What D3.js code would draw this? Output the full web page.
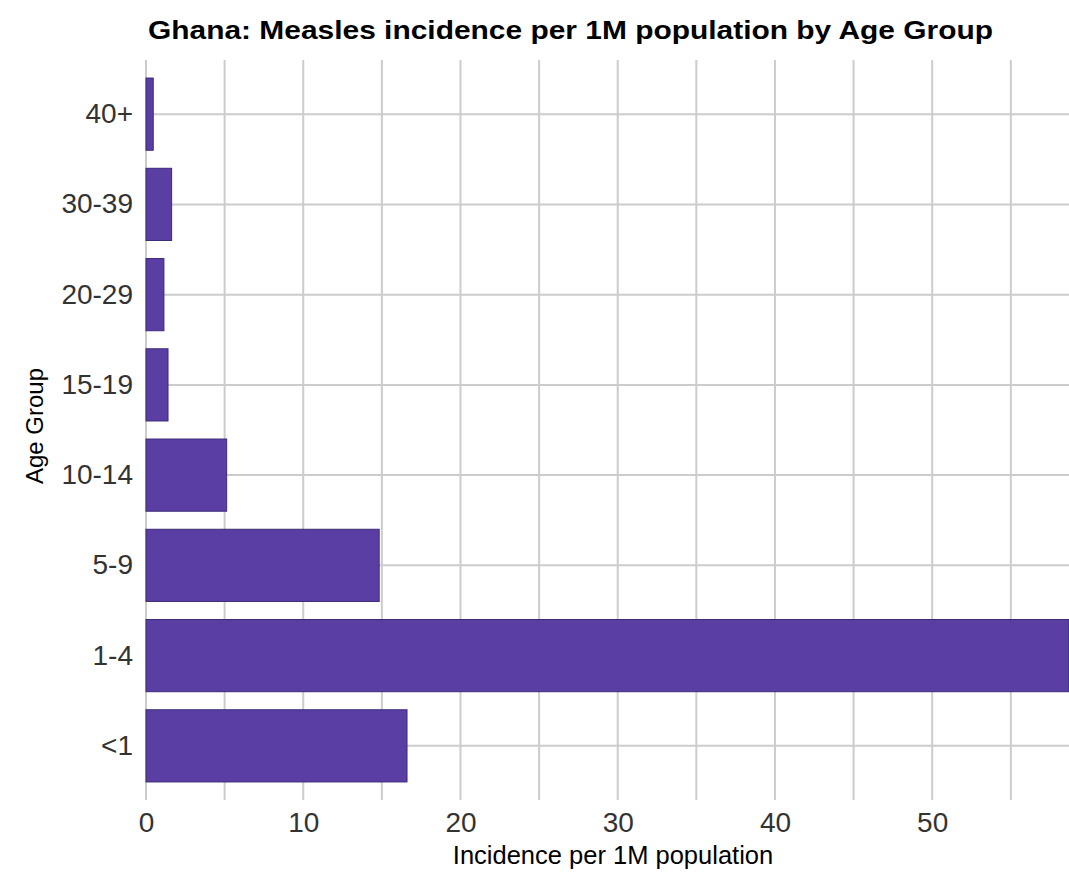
<!DOCTYPE html>
<html><head><meta charset="utf-8">
<script src="https://cdn.jsdelivr.net/npm/d3@7"></script>
<style>body{margin:0;background:#fff}svg{display:block}</style>
</head><body><svg id="c" width="1069" height="872"></svg>
<script>
const categories = ["40+","30-39","20-29","15-19","10-14","5-9","1-4","<1"];
const values = [0.46, 1.63, 1.14, 1.40, 5.13, 14.83, 58.7, 16.6];
const xTicks = [0,10,20,30,40,50];
const xGrid = [0,5,10,15,20,25,30,35,40,45,50,55];
const title = "Ghana: Measles incidence per 1M population by Age Group";
const xTitle = "Incidence per 1M population";
const yTitle = "Age Group";

const svg = d3.select("#c");
const pL = 146, pR = 1069, pT = 60, pB = 800;
const x = d3.scaleLinear().domain([0, 58.7]).range([pL, pR]);
const y = d3.scaleBand().domain(categories).range([pT, pB]).paddingInner(0.2).paddingOuter(0.2);

const grid = svg.append("g").attr("stroke","#cccccc").attr("stroke-width",2);
grid.selectAll(".v").data(xGrid).enter().append("line")
  .attr("x1",d=>x(d)).attr("x2",d=>x(d)).attr("y1",pT).attr("y2",pB);
grid.selectAll(".h").data(categories).enter().append("line")
  .attr("x1",pL).attr("x2",pR)
  .attr("y1",d=>y(d)+y.bandwidth()/2).attr("y2",d=>y(d)+y.bandwidth()/2);

svg.append("g").selectAll("rect").data(categories).enter().append("rect")
  .attr("x",x(0)).attr("y",d=>y(d))
  .attr("width",(d,i)=>x(values[i])-x(0)).attr("height",y.bandwidth())
  .attr("fill","#5a3ea3").attr("stroke","#3b2b78").attr("stroke-width",1);

const font = "Liberation Sans, Arial, sans-serif";
const xa = svg.append("g").attr("transform",`translate(0,${pB})`)
  .call(d3.axisBottom(x).tickValues(xTicks).tickSize(0).tickPadding(12).tickFormat(d3.format("d")));
xa.select(".domain").remove();
xa.selectAll("text").attr("font-family",font).attr("font-size",28).attr("fill","#333");

const ya = svg.append("g").attr("transform",`translate(${pL},0)`)
  .call(d3.axisLeft(y).tickSize(0).tickPadding(13));
ya.select(".domain").remove();
ya.selectAll("text").attr("font-family",font).attr("font-size",28).attr("fill","#333");

svg.append("text").attr("x",570.5).attr("y",39).attr("text-anchor","middle")
  .attr("font-family",font).attr("font-weight","bold").attr("font-size",25)
  .attr("textLength",845).attr("lengthAdjust","spacingAndGlyphs").attr("fill","#000").text(title);
svg.append("text").attr("x",613).attr("y",864).attr("text-anchor","middle")
  .attr("font-family",font).attr("font-size",25.5).attr("fill","#000").text(xTitle);
svg.append("text").attr("transform",`translate(43,426) rotate(-90)`).attr("text-anchor","middle")
  .attr("font-family",font).attr("font-size",24).attr("fill","#000").text(yTitle);
</script></body></html>
